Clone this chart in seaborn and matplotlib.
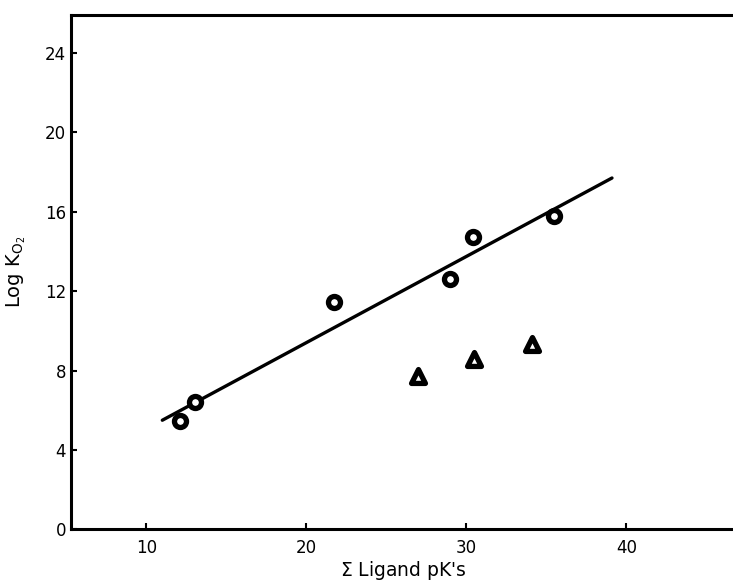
import matplotlib
matplotlib.use("Agg")
import matplotlib.pyplot as plt
import seaborn as sns
import pandas as pd

# Circles (fit data)
circle_x = [12.1, 13.05, 21.7, 29.0, 30.4, 35.5]
circle_y = [5.45, 6.4, 11.45, 12.6, 14.75, 15.8]
# Triangles
tri_x = [27.0, 30.5, 34.1]
tri_y = [7.75, 8.6, 9.35]
# Fit line endpoints
line_x = [11.0, 39.1]
line_y = [5.5, 17.7]

xticks = [10, 20, 30, 40]
yticks = [0, 4, 8, 12, 16, 20, 24]

sns.set_style("ticks")
plt.rcParams['font.family'] = ['DejaVu Sans']

fig = plt.figure(figsize=(7.33, 5.85), dpi=100)
ax = fig.add_axes([0.097, 0.095, 0.906, 0.879])

df_line = pd.DataFrame({"x": line_x, "y": line_y})
sns.lineplot(data=df_line, x="x", y="y", ax=ax, color="black", linewidth=2.4)

df_c = pd.DataFrame({"x": circle_x, "y": circle_y})
sns.scatterplot(data=df_c, x="x", y="y", ax=ax, marker="o", s=75,
                facecolor="white", edgecolor="black", linewidth=3.8, zorder=5)
df_t = pd.DataFrame({"x": tri_x, "y": tri_y})
sns.scatterplot(data=df_t, x="x", y="y", ax=ax, marker="^", s=100,
                facecolor="white", edgecolor="black", linewidth=3.8, zorder=5)

ax.set_xlim(5.3, 46.8)
ax.set_ylim(0, 25.9)
ax.set_xticks(xticks)
ax.set_yticks(yticks)
ax.tick_params(direction="in", length=4, width=1.5, labelsize=12,
               colors="black", labelcolor="black")
ax.tick_params(axis="x", pad=7)
for side in ["left", "bottom", "top"]:
    ax.spines[side].set_linewidth(2.2)
    ax.spines[side].set_color("black")
ax.spines["right"].set_visible(False)
ax.tick_params(axis="x", top=False)

ax.set_xlabel(r"$\Sigma$ Ligand pK's", fontsize=13.5, labelpad=1, color="black")
ax.set_ylabel(r"Log K$_{\mathregular{O_2}}$", fontsize=14, labelpad=12, color="black")

fig.savefig("out.png", dpi=100)
